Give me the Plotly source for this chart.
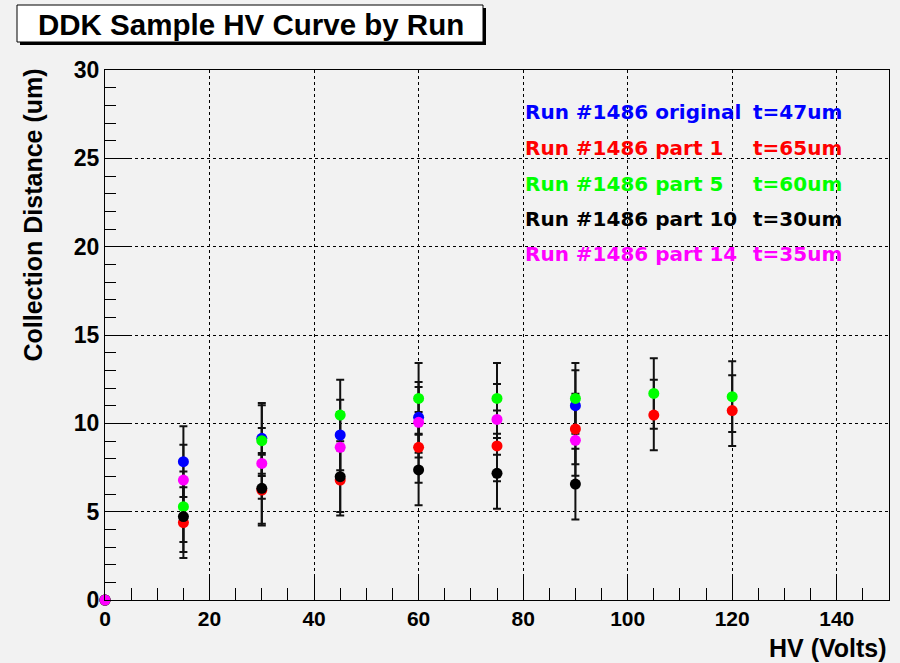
import plotly.graph_objects as go

# ---- data ----
hv_blue = [0, 15, 30, 45, 60, 90]
cd_blue = [0, 7.83, 9.15, 9.34, 10.34, 11.0]

hv_red = [0, 15, 30, 45, 60, 75, 90, 105, 120]
cd_red = [0, 4.38, 6.22, 6.79, 8.64, 8.72, 9.68, 10.47, 10.72]

hv_green = [0, 15, 30, 45, 60, 75, 90, 105, 120]
cd_green = [0, 5.28, 9.02, 10.47, 11.41, 11.41, 11.41, 11.69, 11.51]

hv_black = [0, 15, 30, 45, 60, 75, 90]
cd_black = [0, 4.72, 6.32, 6.98, 7.36, 7.17, 6.56]

hv_magenta = [0, 15, 30, 45, 60, 75, 90]
cd_magenta = [0, 6.79, 7.73, 8.64, 10.06, 10.22, 9.04]

err_value = 2.0

labels_left = ["Run #1486 original", "Run #1486 part 1", "Run #1486 part 5",
               "Run #1486 part 10", "Run #1486 part 14"]
labels_right = ["t=47um", "t=65um", "t=60um", "t=30um", "t=35um"]
colors = ["#0000ff", "#ff0000", "#00ff00", "#000000", "#ff00ff"]

series = [(hv_blue, cd_blue), (hv_red, cd_red), (hv_green, cd_green),
          (hv_black, cd_black), (hv_magenta, cd_magenta)]

# ---- layout geometry (pixels) ----
W, H = 900, 663
L, R, T, B = 105, 11, 70, 63
PW, PH = W - L - R, H - T - B


def px(x):
    return (x - L) / PW


def py(y):
    return (H - B - y) / PH


fig = go.Figure()

# error bars first (so all markers sit on top)
for (xs, ys), c in zip(series, colors):
    errs = [0 if x == 0 else err_value for x in xs]
    fig.add_trace(go.Scatter(
        x=xs, y=ys, mode="markers",
        marker=dict(size=1, color="rgba(0,0,0,0)"),
        error_y=dict(type="data", array=errs, visible=True,
                     color="#111111", thickness=2, width=4),
        cliponaxis=False, showlegend=False, hoverinfo="skip"))

for (xs, ys), c in zip(series, colors):
    fig.add_trace(go.Scatter(
        x=xs, y=ys, mode="markers",
        marker=dict(size=11, color=c, line=dict(width=0)),
        cliponaxis=False, showlegend=False))

font_family = "Liberation Sans, Arial, sans-serif"
legend_family = "DejaVu Sans, Verdana, sans-serif"

fig.update_xaxes(
    range=[0, 150], dtick=20, tick0=0,
    showline=True, linecolor="black", linewidth=1, mirror=True,
    ticks="inside", ticklen=25, tickwidth=1, tickcolor="black",
    minor=dict(dtick=5, ticks="inside", ticklen=12, tickcolor="black", showgrid=False),
    showgrid=True, gridcolor="black", gridwidth=1, griddash="dot",
    zeroline=False,
    tickfont=dict(family=font_family, size=21, color="black", weight="bold"),
)
fig.update_yaxes(
    range=[0, 30], dtick=5, tick0=0,
    showline=True, linecolor="black", linewidth=1, mirror=True,
    ticks="inside", ticklen=24, tickwidth=1, tickcolor="black",
    minor=dict(dtick=1, ticks="inside", ticklen=11, tickcolor="black", showgrid=False),
    showgrid=True, gridcolor="black", gridwidth=1, griddash="dot",
    zeroline=False,
    tickfont=dict(family=font_family, size=23, color="black", weight="bold"),
    ticklabelstandoff=0,
)

shapes = [
    # title box shadow
    dict(type="rect", xref="paper", yref="paper",
         x0=px(20), x1=px(486), y0=py(45), y1=py(8),
         fillcolor="black", line=dict(width=0), layer="above"),
    # title box
    dict(type="rect", xref="paper", yref="paper",
         x0=px(17), x1=px(483), y0=py(42), y1=py(5),
         fillcolor="white", line=dict(color="black", width=1), layer="above"),
]

annotations = [
    dict(text="DDK Sample HV Curve by Run", xref="paper", yref="paper",
         x=px(251), y=py(24), xanchor="center", yanchor="middle", showarrow=False,
         font=dict(family=font_family, size=29.5, color="black", weight="bold")),
    dict(text="Collection Distance (um)", xref="paper", yref="paper",
         x=px(33), y=py(67), xanchor="center", yanchor="top", textangle=-90,
         showarrow=False,
         font=dict(family=font_family, size=25, color="black", weight="bold")),
    dict(text="HV (Volts)", xref="paper", yref="paper",
         x=px(889), y=py(648), xanchor="right", yanchor="middle", showarrow=False,
         font=dict(family=font_family, size=25, color="black", weight="bold")),
]

legend_y = [112, 148, 184, 219, 254]
for lt, rt, c, yy in zip(labels_left, labels_right, colors, legend_y):
    annotations.append(dict(text=lt, xref="paper", yref="paper",
                            x=px(523), y=py(yy), xanchor="left", yanchor="middle",
                            showarrow=False,
                            font=dict(family=legend_family, size=20, color=c, weight="bold")))
    annotations.append(dict(text=rt, xref="paper", yref="paper",
                            x=px(844), y=py(yy), xanchor="right", yanchor="middle",
                            showarrow=False,
                            font=dict(family=legend_family, size=20, color=c, weight="bold")))

fig.update_layout(
    width=W, height=H,
    margin=dict(l=L, r=R, t=T, b=B, pad=0),
    paper_bgcolor="#f2f2f2", plot_bgcolor="#f2f2f2",
    shapes=shapes, annotations=annotations,
    showlegend=False,
)

fig.write_html("out.html")
